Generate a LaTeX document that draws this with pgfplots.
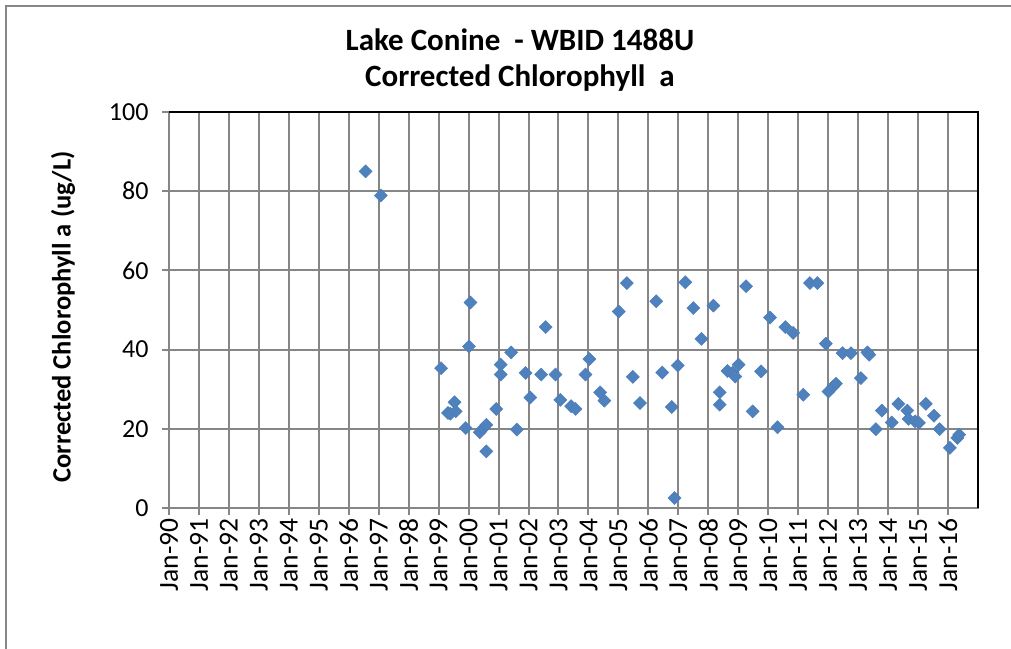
\documentclass[border=0pt]{standalone}
\usepackage{pgfplots}
\pgfplotsset{compat=1.18}
\usepackage{fontspec}
\setmainfont{Carlito}

\definecolor{ptblue}{HTML}{4F81BD}
\definecolor{ptedge}{HTML}{4A7EBB}
\definecolor{gridgray}{HTML}{868686}

% sample date as decimal year, corrected chlorophyll a (ug/L)
\pgfplotstableread{
yr       chla
1996.56  85.0
1997.07  78.9
1999.08  35.3
1999.31  24.0
1999.39  23.8
1999.53  26.7
1999.57  24.4
1999.90  20.2
2000.01  40.8
2000.06  51.9
2000.37  19.1
2000.50  20.2
2000.59  21.0
2000.59  14.3
2000.92  25.0
2001.07  36.2
2001.07  33.7
2001.42  39.3
2001.61  19.8
2001.90  34.1
2002.06  27.9
2002.42  33.7
2002.57  45.7
2002.90  33.7
2003.06  27.3
2003.42  25.7
2003.57  25.0
2003.90  33.7
2004.03  37.6
2004.39  29.2
2004.53  27.1
2005.01  49.6
2005.28  56.8
2005.48  33.1
2005.72  26.5
2006.26  52.2
2006.46  34.2
2006.78  25.5
2006.87  2.5
2006.98  36.0
2007.23  57.0
2007.50  50.5
2007.77  42.7
2008.17  51.1
2008.38  29.2
2008.38  26.1
2008.64  34.6
2008.81  34.2
2008.90  33.2
2009.01  36.2
2009.26  56.0
2009.48  24.4
2009.76  34.5
2010.06  48.1
2010.31  20.4
2010.57  45.7
2010.83  44.2
2011.17  28.6
2011.39  56.8
2011.64  56.8
2011.92  41.5
2012.01  29.4
2012.17  30.7
2012.26  31.4
2012.48  39.1
2012.76  39.1
2013.09  32.8
2013.31  39.3
2013.37  38.7
2013.59  19.9
2013.79  24.6
2014.12  21.6
2014.34  26.3
2014.64  24.6
2014.68  22.5
2014.90  21.9
2015.03  21.5
2015.26  26.3
2015.53  23.3
2015.72  19.9
2016.06  15.2
2016.31  17.7
2016.37  18.5
}\chladata

\begin{document}
\begin{tikzpicture}[x=1bp,y=1bp]
\path[use as bounding box] (0,0) rectangle (1011,649);
\draw[gridgray, line width=2bp] (6,0) -- (6,643) -- (1011,643);

\begin{axis}[
  at={(169bp,141bp)}, anchor=south west,
  scale only axis,
  width=809bp, height=396bp,
  xmin=1990, xmax=2017, ymin=0, ymax=100,
  xtick={1990,...,2016},
  xticklabels={Jan-90,Jan-91,Jan-92,Jan-93,Jan-94,Jan-95,Jan-96,Jan-97,Jan-98,Jan-99,Jan-00,Jan-01,Jan-02,Jan-03,Jan-04,Jan-05,Jan-06,Jan-07,Jan-08,Jan-09,Jan-10,Jan-11,Jan-12,Jan-13,Jan-14,Jan-15,Jan-16},
  ytick={0,20,...,100},
  grid=major,
  major grid style={gridgray, line width=2bp},
  axis line style={gridgray, line width=2bp},
  tick style={gridgray, line width=2bp},
  tick align=outside,
  major tick length=7bp,
  xtick pos=bottom, ytick pos=left,
  x tick label style={rotate=90, anchor=east, font=\fontsize{27.5bp}{30bp}\selectfont},
  y tick label style={xshift=-10bp, font=\fontsize{26bp}{30bp}\selectfont},
  /pgf/number format/assume math mode=true,
  after end axis/.code={
    \draw[black, line width=2bp] (rel axis cs:0,1) -- (rel axis cs:1,1) -- (rel axis cs:1,0);
  },
  clip=false,
]
\addplot[only marks, mark=square*, mark size=4.6bp,
  mark options={rotate=45, fill=ptblue, draw=ptedge, line width=0.5bp}]
  table[x=yr, y=chla] {\chladata};
\end{axis}

\node[rotate=90, font=\fontsize{26.5bp}{30bp}\selectfont\bfseries] at (63,332) {Corrected Chlorophyll a (ug/L)};
\node[font=\fontsize{31bp}{36bp}\selectfont\bfseries] at (520,609) {Lake Conine\ \ - WBID 1488U};
\node[font=\fontsize{31bp}{36bp}\selectfont\bfseries] at (520,571) {Corrected Chlorophyll\ \ a};
\end{tikzpicture}
\end{document}
